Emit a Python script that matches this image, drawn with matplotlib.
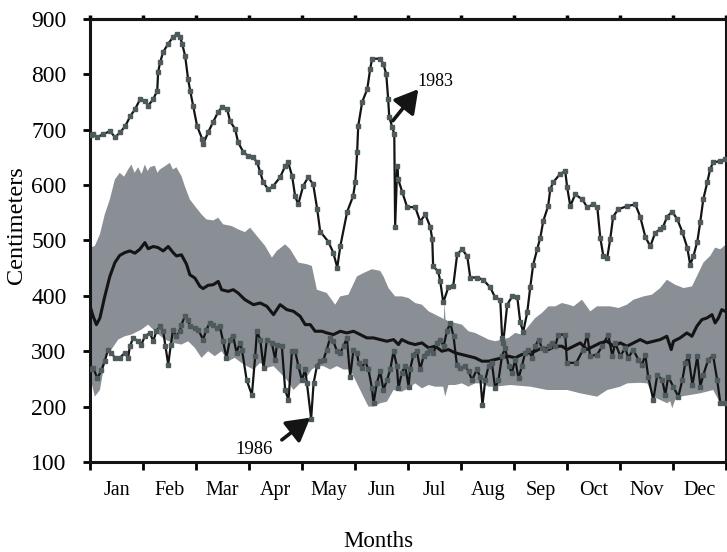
import matplotlib
matplotlib.use('Agg')
import matplotlib.pyplot as plt
import numpy as np

plt.rcParams['font.family'] = ['Liberation Serif', 'DejaVu Serif']

months = ['Jan', 'Feb', 'Mar', 'Apr', 'May', 'Jun', 'Jul', 'Aug', 'Sep', 'Oct', 'Nov', 'Dec']

# 1983 (wet year), day of year / cm
y1983_day = [0.5, 1.7, 4.0, 7.5, 11.5, 14.3, 17.2, 20.1, 23.0, 25.8, 28.7, 31.6, 33.3, 36.2, 38.5, 39.0,
             40.2, 41.9, 44.8, 47.6, 49.9, 51.6, 52.8, 54.5, 56.2, 57.4, 59.1, 61.4, 64.3, 64.9, 67.7,
             70.6, 73.5, 75.8, 78.6, 80.3, 83.2, 84.9, 87.8, 90.7, 93.5, 95.8, 97.6, 99.3, 102.2, 105.0,
             109.0, 111.9, 113.6, 115.9, 117.6, 119.4, 122.2, 125.1, 128.0, 130.3, 132.0, 136.6, 139.5,
             141.8, 143.5, 147.5, 150.9, 152.1, 153.2, 153.8, 156.1, 159.0, 160.7, 161.8, 166.4, 168.2,
             169.9, 171.0, 171.6, 173.3, 174.5, 175.0, 176.2, 176.8, 179.1, 181.9, 186.5, 189.4, 192.3,
             195.1, 196.3, 196.8, 199.7, 200.9, 202.6, 205.5, 208.3, 210.6, 213.5, 216.4, 218.1, 222.1,
             225.5, 229.6, 232.4, 235.3, 236.4, 237.0, 239.3, 242.2, 245.1, 246.8, 248.5, 250.8, 252.5,
             254.2, 256.5, 258.3, 260.0, 262.8, 264.0, 265.7, 269.7, 272.6, 273.7, 275.5, 278.3, 282.4,
             285.2, 288.7, 291.0, 292.7, 294.5, 296.7, 298.4, 300.1, 303.0, 308.2, 312.8, 315.6, 318.5,
             321.4, 324.2, 327.1, 328.8, 331.1, 334.0, 336.9, 339.7, 342.6, 344.3, 346.1, 348.4, 350.1,
             351.8, 354.1, 355.8, 357.5, 361.6, 364.4]
y1983_cm = [690, 692, 686, 692, 697, 686, 695, 706, 724, 737, 755, 752, 743, 755, 770, 804,
            822, 840, 855, 867, 873, 867, 855, 833, 791, 770, 743, 706, 683, 674, 695,
            714, 732, 741, 737, 715, 701, 677, 660, 652, 650, 641, 623, 605, 592, 598,
            614, 634, 641, 616, 580, 565, 598, 614, 601, 556, 516, 498, 478,
            451, 489, 552, 580, 605, 659, 706, 750, 773, 810, 828, 828, 819,
            800, 755, 723, 705, 692, 525, 634, 610, 587, 560, 560, 534, 547,
            525, 502, 453, 444, 426, 388, 415, 417, 475, 484, 471, 433, 433,
            429, 415, 397, 393, 324, 315, 384, 399, 397, 352, 335, 370, 415,
            456, 484, 505, 535, 562, 592, 605, 620, 625, 596, 562, 583, 574,
            560, 565, 560, 505, 471, 469, 502, 543, 556, 562, 565, 543, 507,
            489, 514, 520, 525, 543, 552, 538, 516, 487, 456, 471, 498, 534,
            574, 605, 629, 641, 643, 647]

# 1986 (dry year)
y1986_day = [0.5, 1.7, 4.2, 6.5, 8.4, 10.3, 12.2, 14.2, 17.0, 19.9, 21.8, 22.8, 24.7, 27.5, 29.4, 31.4,
             34.3, 36.2, 38.0, 40.0, 41.9, 43.2, 44.8, 46.3, 47.6, 49.5, 51.5, 52.4, 54.3, 56.2, 57.2,
             60.1, 62.0, 64.8, 66.7, 68.7, 70.6, 72.5, 74.4, 76.3, 78.2, 80.2, 82.1, 84.0, 85.9, 87.1,
             89.8, 92.8, 94.7, 95.7, 97.6, 99.5, 101.4, 104.2, 106.2, 107.1, 110.0, 111.9, 113.8, 115.8,
             117.6, 119.5, 121.5, 123.4, 124.4, 126.8, 128.2, 130.1, 132.0, 133.9, 135.8, 137.7, 139.6,
             141.6, 143.5, 145.4, 147.3, 149.2, 151.1, 153.1, 154.0, 155.9, 157.8, 159.7, 161.7, 162.6,
             164.5, 166.4, 168.3, 170.3, 172.2, 174.1, 176.0, 176.9, 178.8, 180.8, 182.7, 183.6, 185.5,
             187.5, 189.4, 191.3, 193.2, 195.1, 197.0, 199.0, 200.9, 202.8, 204.7, 206.6, 208.5, 210.4,
             212.3, 215.2, 217.1, 219.1, 221.9, 223.8, 225.1, 226.7, 228.6, 230.5, 232.4, 234.3, 236.3,
             238.2, 240.1, 242.0, 243.9, 245.8, 247.7, 249.6, 251.5, 253.5, 255.4, 257.3, 259.2, 261.1,
             263.0, 265.0, 266.9, 268.6, 272.6, 273.6, 278.9, 282.9, 285.2, 286.9, 290.9, 293.8, 297.3,
             299.6, 301.3, 304.2, 307.0, 308.8, 311.6, 314.5, 316.8, 318.5, 320.2, 323.1, 325.4, 328.3,
             330.0, 331.7, 334.6, 337.5, 339.8, 341.5, 343.3, 345.6, 348.4, 350.1, 351.8, 354.7, 357.5,
             359.8, 361.6, 364.4]
y1986_cm = [268, 270, 251, 266, 282, 303, 297, 288, 288, 297, 288, 309, 324, 318, 312, 327,
            333, 318, 336, 345, 336, 309, 276, 312, 339, 327, 336, 348, 363, 357, 345,
            342, 339, 321, 339, 351, 348, 342, 345, 318, 288, 321, 327, 297, 315, 303,
            248, 221, 291, 336, 321, 270, 321, 315, 285, 312, 309, 230, 212, 300,
            300, 273, 248, 267, 242, 178, 242, 273, 282, 285, 303, 324, 318,
            300, 297, 309, 324, 254, 303, 297, 279, 270, 282, 267, 233, 206,
            242, 264, 230, 248, 267, 300, 273, 233, 261, 273, 236, 267, 294,
            300, 267, 291, 297, 303, 297, 315, 321, 309, 336, 351, 327, 276,
            270, 273, 264, 248, 267, 254, 203, 248, 273, 279, 233, 248, 291,
            306, 273, 261, 285, 251, 273, 297, 303, 288, 309, 321, 306, 303,
            309, 315, 309, 330, 330, 279, 279, 303, 330, 291, 294, 309, 330,
            291, 315, 291, 306, 288, 303, 285, 276, 294, 254, 212, 257, 248,
            221, 254, 236, 218, 248, 279, 291, 239, 291, 236, 257, 285, 291,
            248, 206, 206]

# long-term mean
mean_day = [0, 1.7, 3.6, 5.6, 8.4, 11.3, 14.2, 17.0, 19.9, 22.8, 25.7, 28.5, 31.4, 33.3, 36.2, 39.0,
            41.9, 44.8, 47.6, 49.5, 52.4, 55.3, 57.2, 60.1, 63.0, 64.8, 67.7, 70.6, 73.5, 75.4, 79.2,
            82.1, 84.9, 88.8, 93.7, 97.6, 101.4, 105.2, 109.0, 112.9, 116.7, 120.5, 123.4, 126.3, 129.1,
            133.0, 135.8, 139.6, 143.5, 147.3, 151.1, 155.0, 158.8, 162.6, 166.4, 170.3, 174.1, 176.9,
            178.8, 182.7, 186.5, 190.4, 194.2, 198.0, 201.8, 205.6, 209.5, 213.3, 217.1, 220.9, 224.8,
            228.6, 232.4, 236.3, 240.1, 243.9, 247.7, 251.5, 255.4, 259.2, 263.0, 266.9, 270.7, 273.6,
            277.4, 281.2, 285.1, 288.9, 292.7, 296.5, 300.3, 304.2, 308.0, 311.8, 315.6, 319.5, 323.3,
            327.1, 330.9, 333.4, 334.7, 338.5, 342.4, 345.3, 348.1, 351.0, 353.9, 356.8, 358.6, 360.5,
            362.4, 364.4]
mean_cm = [381, 363, 348, 360, 399, 435, 460, 473, 478, 481, 477, 484, 496, 485, 489, 487,
           481, 489, 478, 472, 474, 457, 438, 432, 417, 413, 419, 420, 426, 411, 408,
           411, 405, 393, 384, 387, 381, 366, 384, 375, 372, 363, 348, 348, 336,
           336, 333, 330, 336, 333, 336, 330, 324, 324, 321, 318, 321, 312,
           321, 315, 312, 315, 306, 309, 300, 303, 297, 294, 291, 288, 282,
           282, 285, 288, 291, 288, 294, 297, 300, 306, 303, 309, 309, 303,
           309, 315, 303, 309, 315, 318, 309, 315, 309, 315, 321, 315, 318,
           321, 327, 303, 318, 324, 333, 327, 345, 357, 360, 366, 351, 360,
           375, 372]

# range band, upper and lower edge
band_hi_day = [0, 2.7, 5.6, 8.4, 11.3, 14.2, 17.0, 19.5, 21.8, 23.7, 25.5, 27.5, 29.5, 31.4, 33.0, 34.3,
               37.1, 38.6, 40.0, 42.5, 45.7, 47.5, 49.5,
               52.4, 54.3, 57.2, 60.1, 63.9, 66.7, 70.6, 73.5, 76.3, 81.1, 84.9, 88.8, 91.8, 95.7, 100.4,
               104.3, 107.1, 111.9, 114.8, 119.5, 124.4, 127.2, 130.1, 135.8, 140.6, 143.5, 148.2, 153.1,
               156.8, 161.7, 166.4, 168.3, 171.2, 175.0, 178.8, 182.7, 186.5, 190.4, 194.2, 198.0, 201.8,
               202.9, 203.4, 203.9, 205.6, 209.5, 213.3, 217.1, 220.9, 224.8, 228.6, 232.4, 236.3, 240.1,
               243.9, 247.7, 251.5, 255.4, 259.2, 263.0, 266.9, 270.7, 274.5, 277.4, 282.2, 287.0, 290.8,
               294.6, 298.4, 303.2, 308.0, 311.8, 317.6, 322.3, 327.1, 330.9, 335.7, 340.5, 345.3, 348.1,
               351.9, 355.8, 358.6, 361.5, 365.0]
band_hi_cm = [487, 490, 511, 547, 574, 610, 622, 615, 628, 637, 622, 632, 620, 637, 625, 632,
              635, 622, 628, 633, 640, 628, 632,
              616, 598, 574, 562, 547, 538, 536, 541, 529, 526, 520, 515, 523, 508, 490,
              469, 481, 493, 484, 460, 457, 454, 411, 405, 384, 399, 402, 435,
              441, 448, 445, 435, 414, 399, 399, 396, 387, 384, 372, 366, 360,
              358, 388, 357, 354, 351, 348, 336, 333, 327, 321, 318, 321, 324,
              333, 330, 345, 360, 369, 381, 381, 387, 384, 381, 393, 372, 381,
              381, 381, 378, 384, 393, 399, 402, 414, 429, 420, 414, 417, 435,
              460, 472, 487, 484, 493]
band_lo_day = [0, 2.7, 5.6, 7.5, 10.3, 12.2, 16.1, 19.9, 23.7, 29.4, 33.3, 37.1, 42.8, 47.6, 52.4, 56.2,
               60.1, 63.9, 67.7, 71.5, 75.4, 79.2, 83.0, 86.8, 89.9, 93.7, 97.6, 101.4, 105.2, 109.0,
               112.9, 116.7, 120.5, 122.4, 124.4, 127.2, 130.1, 133.9, 137.7, 141.6, 145.4, 149.2, 153.1,
               156.8, 159.7, 162.6, 166.4, 170.3, 174.1, 178.8, 182.7, 186.5, 190.4, 194.2, 198.0, 202.6,
               203.7, 205.6, 209.5, 213.3, 217.1, 220.9, 224.8, 228.6, 232.4, 241.0, 252.5, 262.3, 273.7,
               281.2, 290.9, 296.7, 304.2, 308.2, 315.6, 319.7, 323.1, 331.1, 332.8, 334.0, 335.7, 338.5,
               350.1, 357.5, 361.6, 365.0]
band_lo_cm = [254, 218, 230, 264, 303, 303, 321, 327, 330, 339, 348, 336, 321, 315, 312, 318,
              306, 288, 300, 291, 300, 282, 288, 279, 273, 267, 279, 270, 273, 261,
              248, 230, 242, 248, 254, 267, 273, 273, 267, 273, 267, 267, 242,
              218, 200, 200, 206, 209, 230, 227, 233, 242, 233, 239, 236, 236,
              218, 239, 239, 242, 236, 242, 242, 236, 236, 239, 236, 230, 230,
              224, 218, 230, 236, 242, 243, 242, 218, 206, 210, 197, 212, 218,
              224, 230, 206, 206]


def plot():
    fig = plt.figure(figsize=(7.27, 5.52), dpi=100)
    ax = fig.add_axes([0.124, 0.163, 0.875, 0.803])

    band_color = '#898f95'
    marker_color = '#4e5a5c'

    ax.fill(np.r_[band_hi_day, band_lo_day[::-1]], np.r_[band_hi_cm, band_lo_cm[::-1]],
            color=band_color, lw=0, zorder=1)
    ax.plot(mean_day, mean_cm, color='#141414', lw=2.2, zorder=3)
    ax.plot(y1986_day, y1986_cm, color='#141414', lw=1.6, marker='s', ms=3.4,
            mfc=marker_color, mec=marker_color, zorder=4)
    ax.plot(y1983_day, y1983_cm, color='#141414', lw=1.6, marker='s', ms=3.4,
            mfc=marker_color, mec=marker_color, zorder=4)

    arrow = dict(arrowstyle='-|>,head_length=0.7,head_width=0.4', lw=2.6, color='#141414',
                 mutation_scale=20, shrinkA=0, shrinkB=0)
    ax.annotate('', xy=(188.3, 773), xytext=(173.7, 716), arrowprops=arrow, zorder=6)
    ax.text(187.5, 771, '1983', fontsize=13, ha='left', va='bottom', zorder=6)
    ax.annotate('', xy=(126.3, 180), xytext=(110.0, 140), arrowprops=arrow, zorder=6)
    ax.text(93.8, 122, '1986', fontsize=13.5, ha='center', va='center', zorder=6)

    ax.set_xlim(0, 365)
    ax.set_ylim(100, 900)
    edges = np.linspace(0, 365, 13)
    ax.set_xticks(edges)
    ax.set_xticklabels([])
    ax.set_xticks((edges[:-1] + edges[1:]) / 2, minor=True)
    ax.set_xticklabels(months, minor=True, fontsize=14.5)
    ax.tick_params(axis='x', which='major', direction='out', length=6, width=2)
    ax.tick_params(axis='x', which='minor', length=0, pad=14)
    top = ax.secondary_xaxis('top')
    top.set_xticks(edges)
    top.set_xticklabels([])
    top.tick_params(direction='out', length=3, width=2.5)
    top.spines['top'].set_linewidth(2.2)
    ax.set_yticks(np.arange(100, 901, 100))
    ax.tick_params(axis='y', direction='out', length=5, width=2, labelsize=17, pad=12)
    for s in ax.spines.values():
        s.set_linewidth(2.2)
        s.set_color('#141414')

    ax.set_xlabel('Months', fontsize=16.5)
    ax.xaxis.set_label_coords(0.453, -0.155)
    ax.set_ylabel('Centimeters', fontsize=17.5)
    ax.yaxis.set_label_coords(-0.1, 0.535)

    fig.savefig('out.png', dpi=100)


if __name__ == '__main__':
    plot()
